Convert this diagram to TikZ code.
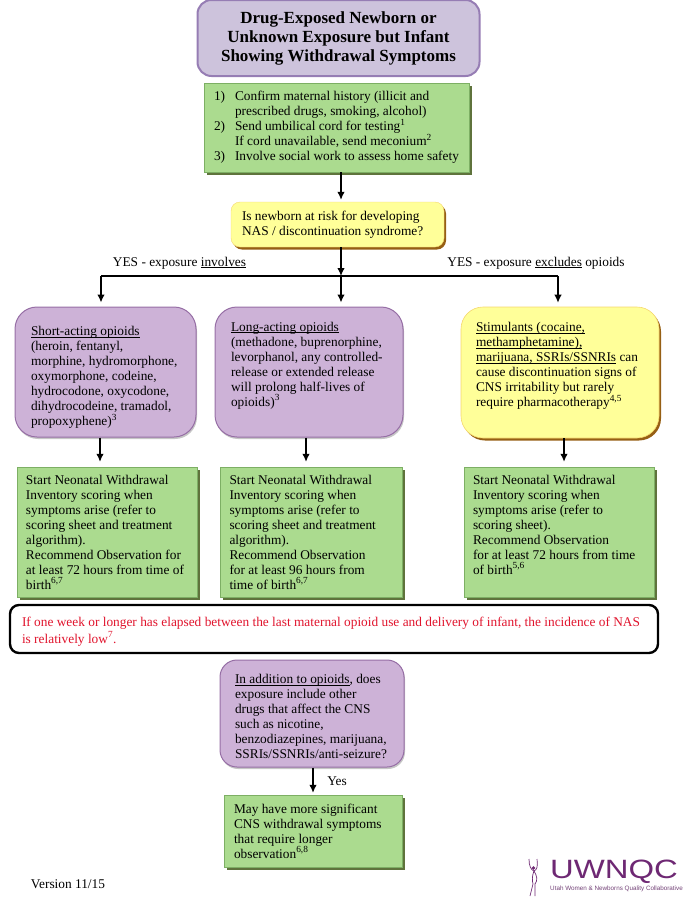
\documentclass[tikz,border=0pt]{standalone}
\usepackage{fontspec}
\setmainfont{Liberation Serif}
\setsansfont{Liberation Sans}
\usetikzlibrary{positioning,arrows.meta,shadows}
\definecolor{greenfill}{RGB}{171,219,143}
\definecolor{greenline}{RGB}{125,175,100}
\definecolor{greenshadow}{RGB}{95,115,60}
\definecolor{purplefill}{RGB}{205,178,215}
\definecolor{purpleline}{RGB}{150,110,165}
\definecolor{lavenderfill}{RGB}{205,195,220}
\definecolor{lavenderline}{RGB}{150,125,180}
\definecolor{yellowfill}{RGB}{255,255,153}
\definecolor{yellowline}{RGB}{245,215,110}
\definecolor{brownshadow}{RGB}{150,95,20}
\definecolor{alertred}{RGB}{225,20,45}
\definecolor{logopurple}{RGB}{110,40,115}
\newcommand{\ulbl}[1]{\underline{\smash{#1}}}
\tikzset{%
  textbox/.style={align=flush left, inner ysep=0pt, font=\fontsize{13.35}{15}\selectfont},
  action/.style={textbox, draw=greenline, fill=greenfill,
    drop shadow={shadow xshift=3pt, shadow yshift=-3pt, opacity=1, fill=greenshadow}},% green steps
  opioid/.style={textbox, draw=purpleline, line width=1pt, fill=purplefill, rounded corners=22pt,
    drop shadow={shadow xshift=1pt, shadow yshift=-2pt, opacity=.45, fill=gray}},% purple questions
  caution/.style={textbox, draw=yellowline, fill=yellowfill,
    drop shadow={shadow xshift=2pt, shadow yshift=-2.5pt, opacity=1, fill=brownshadow}},% yellow boxes
  flow/.style={line width=1.3pt, -{Latex[length=8pt,width=7.5pt]}, shorten >=2pt},
  bus/.style={line width=1.3pt}
}
\begin{document}
\begin{tikzpicture}[x=1pt,y=1pt]
\useasboundingbox (0,0) rectangle (691,-906);

\node[draw=lavenderline, line width=2pt, fill=lavenderfill, rounded corners=14pt, minimum width=282pt, minimum height=76pt,
  align=center, font=\fontsize{17}{19}\selectfont\bfseries] (title) at (338.5,-38)
  {Drug-Exposed Newborn or\\Unknown Exposure but Infant\\Showing Withdrawal Symptoms};

\node[action, minimum width=265pt, minimum height=89pt, text width=245pt, inner xsep=10pt] (steps) at (336.5,-127.5)
  {\makebox[21pt][l]{1)}Confirm maternal history (illicit and\\
   \hspace*{21pt}prescribed drugs, smoking, alcohol)\\
   \makebox[21pt][l]{2)}Send umbilical cord for testing\textsuperscript{1}\\
   \hspace*{21pt}If cord unavailable, send meconium\textsuperscript{2}\\
   \makebox[21pt][l]{3)}Involve social work to assess home safety};

\node[caution, rounded corners=9pt, minimum width=213pt, minimum height=45pt, text width=191pt, inner xsep=11pt] (risk) at (337.5,-224.5)
  {Is newborn at risk for developing\\NAS / discontinuation syndrome?};

\node[opioid, minimum width=181pt, minimum height=130pt, text width=149pt, inner xsep=16pt] (short) at (105.5,-372)
  {\rule{0pt}{20pt}\ulbl{Short-acting opioids}\\(heroin, fentanyl,\\morphine, hydromorphone,\\oxymorphone, codeine,\\
   hydrocodone, oxycodone,\\dihydrocodeine, tramadol,\\propoxyphene)\textsuperscript{3}};
\node[opioid, minimum width=188pt, minimum height=130pt, text width=156pt, inner xsep=16pt] (long) at (309,-372)
  {\ulbl{Long-acting opioids}\\(methadone, buprenorphine,\\levorphanol, any controlled-\\release or extended release\\
   will prolong half-lives of\\opioids)\textsuperscript{3}\\[-8pt]~};
\node[caution, line width=.6pt, rounded corners=22pt, minimum width=198pt, minimum height=131pt, text width=168pt, inner xsep=15pt] (stim) at (560,-372.5)
  {\ulbl{Stimulants (cocaine,}\\\ulbl{methamphetamine),}\\\ulbl{marijuana, SSRIs/SSNRIs} can\\cause discontinuation signs of\\
   CNS irritability but rarely\\require pharmacotherapy\textsuperscript{4,5}\\[-8pt]~};

\node[action, minimum width=180pt, minimum height=130pt, text width=162pt, inner xsep=9pt] (scorea) at (107,-532)
  {Start Neonatal Withdrawal\\Inventory scoring when\\symptoms arise (refer to\\scoring sheet and treatment\\algorithm).\\
   Recommend Observation for\\at least 72 hours from time of\\birth\textsuperscript{6,7}};
\node[action, minimum width=182pt, minimum height=130pt, text width=163pt, inner xsep=9.5pt] (scoreb) at (311,-532)
  {Start Neonatal Withdrawal\\Inventory scoring when\\symptoms arise (refer to\\scoring sheet and treatment\\algorithm).\\
   Recommend Observation\\for at least 96 hours from\\time of birth\textsuperscript{6,7}};
\node[action, minimum width=190pt, minimum height=130pt, text width=172pt, inner xsep=9pt] (scorec) at (559,-532)
  {Start Neonatal Withdrawal\\Inventory scoring when\\symptoms arise (refer to\\scoring sheet).\\
   Recommend Observation\\for at least 72 hours from time\\of birth\textsuperscript{5,6}\\~};

\node[textbox, draw=black, line width=2.4pt, fill=white, rounded corners=9pt, text=alertred, minimum width=648pt, minimum height=48pt, text width=624pt, inner xsep=12pt] (week) at (334,-629)
  {\rule{0pt}{14pt}If one week or longer has elapsed between the last maternal opioid use and delivery of infant, the incidence of NAS\\[2pt]is relatively low\textsuperscript{7}.};

\node[opioid, rounded corners=17pt, minimum width=184pt, minimum height=107pt, text width=154pt, inner xsep=15pt] (other) at (312,-713.5)
  {\rule{0pt}{15pt}\ulbl{In addition to opioids}, does\\exposure include other\\drugs that affect the CNS\\such as nicotine,\\benzodiazepines, marijuana,\\SSRIs/SSNRIs/anti-seizure?};
\node[action, minimum width=178pt, minimum height=72pt, text width=158pt, inner xsep=10pt] (longer) at (313,-831)
  {May have more significant\\CNS withdrawal symptoms\\that require longer\\observation\textsuperscript{6,8}};

\node[textbox] (involves) at (179.5,-263) {YES - exposure \ulbl{involves}};
\node[textbox] (excludes) at (536,-263) {YES - exposure \ulbl{excludes} opioids};
\node[textbox] (yes) at (337,-781) {Yes};
\node[textbox] (version) at (68,-884) {Version 11/15};

\coordinate (busl) at (101,-276);
\coordinate (busm) at (341,-276);
\coordinate (busr) at (558,-276);

\draw[flow] ([xshift=4.5pt]steps.south) -- ([xshift=3.5pt]risk.north);
\draw[flow, shorten >=0pt] (busm |- risk.south) -- (busm);
\draw[bus] (busl) -- (busr);
\draw[flow, shorten >=4pt] (busl) -- (busl |- short.north);
\draw[flow, shorten >=4pt] (busm) -- (busm |- long.north);
\draw[flow, shorten >=4pt] (busr) -- (busr |- stim.north);
\draw[flow, shorten >=5pt] ([xshift=-5.5pt]short.south) -- ([xshift=-7pt]scorea.north);
\draw[flow, shorten >=5pt] ([xshift=-3pt]long.south) -- ([xshift=-5pt]scoreb.north);
\draw[flow, shorten >=5pt] ([xshift=4pt]stim.south) -- ([xshift=5pt]scorec.north);
\draw[flow] ([xshift=1pt]other.south) -- ([xshift=0pt]longer.north);

% logo
\node[inner sep=0pt, text=logopurple, font=\fontsize{26.5}{28}\sffamily, xscale=1.24] (uwnqc) at (614,-872) {UWNQC};
\node[inner sep=0pt, text=logopurple!70!gray, font=\fontsize{6.3}{7}\sffamily] (utah) at (616.5,-888.5) {Utah Women \& Newborns Quality Collaborative};
\draw[logopurple, line width=.7pt] (529,-859) .. controls (529,-866) and (531,-870) .. (534,-871) .. controls (537,-870) and (538,-866) .. (537,-859);
\draw[logopurple, line width=.7pt] (534,-871) .. controls (537,-876) and (538,-880) .. (535,-884) -- (535,-896);
\draw[logopurple, line width=.7pt] (534,-871) .. controls (532,-876) and (532,-880) .. (533,-884) -- (530,-896);
\fill[logopurple] (533.5,-868) circle (1.8pt);
\end{tikzpicture}
\end{document}
